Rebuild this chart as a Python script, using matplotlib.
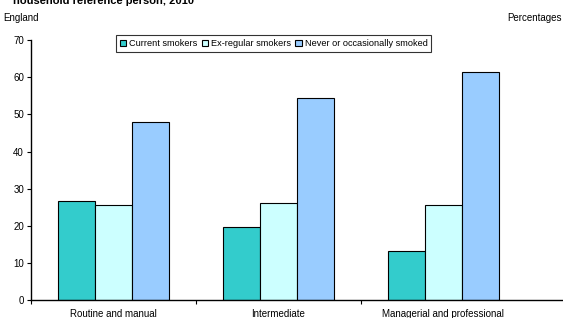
import matplotlib
matplotlib.use('Agg')
import matplotlib.pyplot as plt
import numpy as np

plt.rcParams['font.family'] = ['Liberation Sans', 'DejaVu Sans']

categories = ['Routine and manual', 'Intermediate', 'Managerial and professional']
series_names = ['Current smokers', 'Ex-regular smokers', 'Never or occasionally smoked']
current = [26.7, 19.6, 13.3]
ex_regular = [25.5, 26.1, 25.6]
never = [48.0, 54.4, 61.3]
colors = ['#33CCCC', '#CCFFFF', '#99CCFF']

W, H = 563, 318
fig = plt.figure(figsize=(W / 100, H / 100), dpi=100)
ax = fig.add_axes([31 / W, (H - 300.3) / H, 1 - 31 / W, (300.3 - 40) / H])

x = np.arange(len(categories))
bw = 0.224
for i, (vals, name) in enumerate(zip([current, ex_regular, never], series_names)):
    ax.bar(x + (i - 1) * bw, vals, bw, color=colors[i], edgecolor='black',
           linewidth=0.8, label=name)

ax.set_ylim(0, 70)
ax.set_xlim(-0.5, -0.5 + (W - 29) / 165.5)
ax.set_yticks(range(0, 71, 10))
ax.set_xticks([-0.5, 0.5, 1.5])
ax.set_xticklabels([])
ax.tick_params(axis='y', labelsize=7, length=3, width=0.8, pad=2)
ax.tick_params(axis='x', length=3, width=0.8)
for c, lab in zip(x, categories):
    ax.text(c, -2.3, lab, ha='center', va='top', fontsize=7)

for s in ['top', 'right']:
    ax.spines[s].set_visible(False)
for s in ['left', 'bottom']:
    ax.spines[s].set_linewidth(1.0)

leg = ax.legend(loc='upper left', bbox_to_anchor=((116 - 31) / (W - 31), 1.018),
                ncol=3, fontsize=6.6, frameon=True, fancybox=False,
                handlelength=0.7, handleheight=0.7, handletextpad=0.3,
                columnspacing=0.5, borderpad=0.4, borderaxespad=0)
leg.get_frame().set_edgecolor('black')
leg.get_frame().set_linewidth(0.8)

fig.text(3 / W, 1 - 18 / H, 'England', fontsize=7, va='center', ha='left')
fig.text(1 - 1 / W, 1 - 18 / H, 'Percentages', fontsize=7, va='center', ha='right')
fig.text(13 / W, 1 - 4 / H, 'household reference person, 2010', fontsize=8,
         fontweight='bold', va='baseline', ha='left')

fig.savefig('out.png', dpi=100)
